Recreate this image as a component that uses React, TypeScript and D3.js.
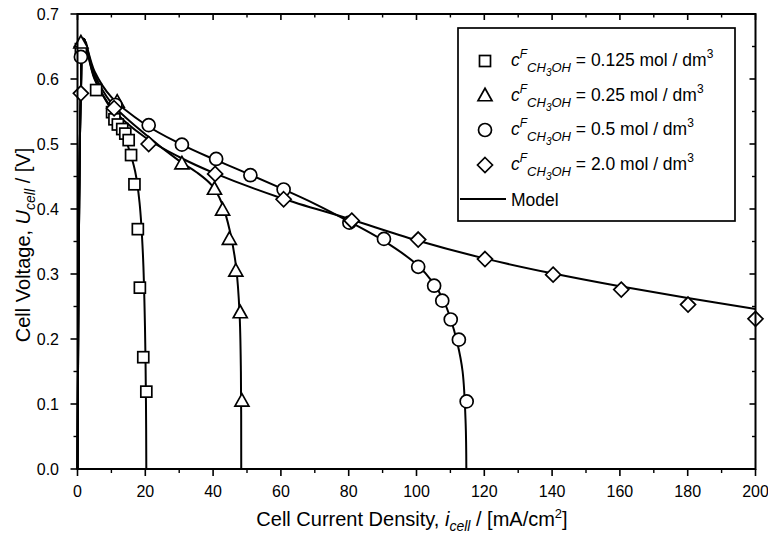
import React from "react";
import * as d3 from "d3";

// ---------- data ----------
// measured points: [current density mA/cm2, cell voltage V]
const sq125: [number, number][] = [
  [1.0, 0.646], [5.5, 0.583], [10.2, 0.549], [10.9, 0.538], [11.9, 0.530],
  [13.2, 0.523], [14.1, 0.516], [15.1, 0.506], [15.8, 0.483], [16.8, 0.438],
  [17.8, 0.369], [18.4, 0.279], [19.4, 0.172], [20.3, 0.119],
];
const tri25: [number, number][] = [
  [1.0, 0.655], [11.7, 0.564], [30.8, 0.469], [40.4, 0.430], [42.8, 0.398],
  [44.8, 0.353], [46.7, 0.304], [48.0, 0.240], [48.5, 0.104],
];
const circ5: [number, number][] = [
  [1.0, 0.634], [11.2, 0.560], [21.0, 0.529], [30.8, 0.499], [40.9, 0.477],
  [51.0, 0.452], [60.8, 0.430], [80.2, 0.379], [90.4, 0.354], [100.5, 0.311],
  [105.2, 0.282], [107.6, 0.259], [110.1, 0.230], [112.5, 0.199], [114.8, 0.104],
];
const dia20: [number, number][] = [
  [1.0, 0.578], [10.8, 0.555], [21.0, 0.500], [40.6, 0.454], [60.8, 0.415],
  [80.9, 0.382], [100.5, 0.353], [120.2, 0.323], [140.3, 0.299], [160.4, 0.276],
  [180.1, 0.253], [200.0, 0.231],
];

// model curves
const modelStart: [number, number][] = [
  [0, 0], [0.2, 0.2], [0.5, 0.41], [1.0, 0.58], [1.8, 0.662],
];
const model125: [number, number][] = [
  [5, 0.6], [10, 0.552], [13, 0.522], [15, 0.495], [17, 0.458], [18.3, 0.41],
  [19.3, 0.33], [19.9, 0.22], [20.2, 0.1], [20.3, 0.0],
];
const model25: [number, number][] = [
  [5, 0.607], [10, 0.563], [20, 0.515], [30, 0.474], [35, 0.457], [39.5, 0.437],
  [42.5, 0.41], [45, 0.365], [46.8, 0.31], [47.8, 0.24], [48.2, 0.15], [48.3, 0.0],
];
const model5: [number, number][] = [
  [5, 0.612], [10, 0.572], [20, 0.530], [30, 0.501], [40, 0.477], [50, 0.455],
  [60, 0.432], [70, 0.408], [80, 0.381], [90, 0.352], [100, 0.315], [105, 0.286],
  [108, 0.259], [110, 0.232], [112, 0.195], [113.6, 0.15], [114.5, 0.07], [114.7, 0.0],
];
const model20: [number, number][] = [
  [5, 0.602], [10, 0.556], [20, 0.510], [30, 0.480], [40, 0.456], [60, 0.417],
  [80, 0.385], [100, 0.352], [120, 0.324], [140, 0.301], [160, 0.281], [180, 0.263],
  [200, 0.246],
];

const xTicks = [0, 20, 40, 60, 80, 100, 120, 140, 160, 180, 200];
const xMinor = [10, 30, 50, 70, 90, 110, 130, 150, 170, 190];
const yTicks = [0, 0.1, 0.2, 0.3, 0.4, 0.5, 0.6, 0.7];
const yMinor = [0.05, 0.15, 0.25, 0.35, 0.45, 0.55, 0.65];

const legendConc = ["0.125", "0.25", "0.5", "2.0"];
const legendShapes = ["square", "triangle", "circle", "diamond"];

// ---------- layout ----------
const W = 768;
const H = 534;
const L = 77.5;
const R = 755.5;
const T = 14;
const B = 469;

const x = d3.scaleLinear().domain([0, 200]).range([L, R]);
const y = d3.scaleLinear().domain([0, 0.7]).range([B, T]);

const line = d3
  .line<[number, number]>()
  .x((d) => x(d[0]))
  .y((d) => y(d[1]))
  .curve(d3.curveCatmullRom.alpha(0.5));

const FONT = "'Liberation Sans', Arial, Helvetica, sans-serif";

function Marker({ shape, cx, cy }: { shape: string; cx: number; cy: number }) {
  const common = { fill: "white", stroke: "black", strokeWidth: 1.7 };
  if (shape === "square") {
    const s = 11;
    return <rect x={cx - s / 2} y={cy - s / 2} width={s} height={s} {...common} />;
  }
  if (shape === "triangle") {
    const w = 14, h = 12.5;
    return (
      <path
        d={`M${cx},${cy - h * 0.62} L${cx + w / 2},${cy + h * 0.38} L${cx - w / 2},${cy + h * 0.38} Z`}
        {...common}
      />
    );
  }
  if (shape === "circle") {
    return <circle cx={cx} cy={cy} r={6.5} {...common} />;
  }
  const r = 7.5;
  return (
    <path d={`M${cx},${cy - r} L${cx + r},${cy} L${cx},${cy + r} L${cx - r},${cy} Z`} {...common} />
  );
}

export default function App() {
  const series: { pts: [number, number][]; shape: string }[] = [
    { pts: sq125, shape: "square" },
    { pts: tri25, shape: "triangle" },
    { pts: circ5, shape: "circle" },
    { pts: dia20, shape: "diamond" },
  ];
  const models = [model125, model25, model5, model20];

  const legX = 458, legY = 28, legW = 277, legH = 193;
  const rowY = [61, 96, 130, 165];

  return (
    <svg
      width={W}
      height={H}
      viewBox={`0 0 ${W} ${H}`}
      style={{ position: "absolute", left: 0, top: 0, background: "white" }}
      fontFamily={FONT}
    >
      <rect x={0} y={0} width={W} height={H} fill="white" />

      {/* models */}
      {models.map((m, i) => (
        <path
          key={"m" + i}
          d={line([...modelStart, ...m]) || ""}
          fill="none"
          stroke="black"
          strokeWidth={2}
        />
      ))}

      {/* markers */}
      {series.map((s, i) =>
        s.pts.map((p, j) => (
          <Marker key={`p${i}-${j}`} shape={s.shape} cx={x(p[0])} cy={y(p[1])} />
        ))
      )}

      {/* frame */}
      <rect x={L} y={T} width={R - L} height={B - T} fill="none" stroke="black" strokeWidth={2} />

      {/* x ticks: bottom outward, top inward */}
      {xTicks.map((t) => (
        <g key={"xt" + t}>
          <line x1={x(t)} x2={x(t)} y1={B} y2={B + 7} stroke="black" strokeWidth={1.6} />
          <line x1={x(t)} x2={x(t)} y1={T} y2={T + 6} stroke="black" strokeWidth={1.6} />
          <text x={x(t)} y={497} fontSize={16} textAnchor="middle">
            {t}
          </text>
        </g>
      ))}
      {xMinor.map((t) => (
        <g key={"xm" + t}>
          <line x1={x(t)} x2={x(t)} y1={B} y2={B + 4} stroke="black" strokeWidth={1.4} />
          <line x1={x(t)} x2={x(t)} y1={T} y2={T + 3.5} stroke="black" strokeWidth={1.4} />
        </g>
      ))}

      {/* y ticks: left outward, right inward */}
      {yTicks.map((t) => (
        <g key={"yt" + t}>
          <line x1={L - 7} x2={L} y1={y(t)} y2={y(t)} stroke="black" strokeWidth={1.6} />
          <line x1={R - 6} x2={R} y1={y(t)} y2={y(t)} stroke="black" strokeWidth={1.6} />
          <text x={59} y={y(t) + 5.5} fontSize={16} textAnchor="end">
            {t.toFixed(1)}
          </text>
        </g>
      ))}
      {yMinor.map((t) => (
        <g key={"ym" + t}>
          <line x1={L - 4} x2={L} y1={y(t)} y2={y(t)} stroke="black" strokeWidth={1.4} />
          <line x1={R - 3.5} x2={R} y1={y(t)} y2={y(t)} stroke="black" strokeWidth={1.4} />
        </g>
      ))}

      {/* axis titles */}
      <text x={412} y={526} fontSize={20} textAnchor="middle">
        Cell Current Density,{" "}
        <tspan fontStyle="italic">i</tspan>
        <tspan fontStyle="italic" fontSize={14} dy={5}>cell</tspan>
        <tspan dy={-5}> / [mA/cm</tspan>
        <tspan fontSize={13} dy={-8}>2</tspan>
        <tspan dy={8}>]</tspan>
      </text>
      <text
        transform={`translate(30, 245) rotate(-90)`}
        fontSize={20}
        textAnchor="middle"
      >
        Cell Voltage, <tspan fontStyle="italic">U</tspan>
        <tspan fontStyle="italic" fontSize={14} dy={5}>cell</tspan>
        <tspan dy={-5}> / [V]</tspan>
      </text>

      {/* legend */}
      <rect x={legX} y={legY} width={legW} height={legH} fill="white" stroke="black" strokeWidth={1.7} />
      {legendConc.map((c, i) => (
        <g key={"lg" + i}>
          <Marker shape={legendShapes[i]} cx={485} cy={rowY[i]} />
          <text x={511} y={rowY[i] + 5} fontSize={17.5}>
            <tspan fontStyle="italic">c</tspan>
            <tspan fontStyle="italic" fontSize={12} dy={-8}>F</tspan>
            <tspan fontStyle="italic" fontSize={13} dy={14}>CH</tspan>
            <tspan fontStyle="italic" fontSize={10} dy={4}>3</tspan>
            <tspan fontStyle="italic" fontSize={13} dy={-4}>OH</tspan>
            <tspan dy={-6}>{` = ${c} mol / dm`}</tspan>
            <tspan fontSize={12} dy={-8}>3</tspan>
          </text>
        </g>
      ))}
      <line x1={460} x2={506} y1={199} y2={199} stroke="black" strokeWidth={2} />
      <text x={511} y={205.5} fontSize={17.5}>
        Model
      </text>
    </svg>
  );
}
